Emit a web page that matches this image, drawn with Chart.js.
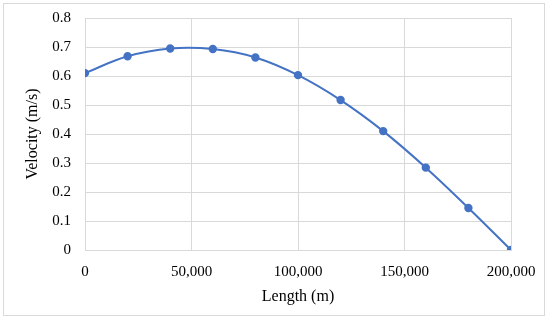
<!DOCTYPE html>
<html>
<head>
<meta charset="utf-8">
<script src="https://cdn.jsdelivr.net/npm/chart.js@4/dist/chart.umd.min.js"></script>
<style>
html,body{margin:0;padding:0;background:#fff;}
#wrap{position:relative;width:550px;height:322px;}
#frame{position:absolute;left:3px;top:3px;width:542px;height:313px;border:1px solid #d9d9d9;box-sizing:border-box;}
canvas{position:absolute;left:0;top:0;}
</style>
</head>
<body>
<div id="wrap"><div id="frame"></div><canvas id="c" width="550" height="322"></canvas></div>
<script>
const lengths = [0, 20000, 40000, 60000, 80000, 100000, 120000, 140000, 160000, 180000, 200000];
const velocity = [0.610, 0.668, 0.695, 0.693, 0.664, 0.603, 0.517, 0.410, 0.284, 0.145, 0.0];
const xTitle = 'Length (m)';
const yTitle = 'Velocity (m/s)';

const FONT = "'Liberation Serif', 'DejaVu Serif', serif";
Chart.defaults.font.family = FONT;
Chart.defaults.color = '#000';

new Chart(document.getElementById('c'), {
  type: 'line',
  data: {
    datasets: [{
      data: lengths.map((x, i) => ({x: x, y: velocity[i]})),
      borderColor: '#4472c4',
      backgroundColor: '#4472c4',
      borderWidth: 2,
      pointRadius: 3.2,
      pointBackgroundColor: '#4472c4',
      pointBorderColor: '#4472c4',
      tension: 0.4,
      fill: false
    }]
  },
  options: {
    responsive: false,
    animation: false,
    devicePixelRatio: 1,
    layout: {padding: {left: 0, right: 39, top: 18, bottom: 0}},
    plugins: {legend: {display: false}, tooltip: {enabled: false}},
    scales: {
      x: {
        type: 'linear',
        min: 0, max: 200000,
        ticks: {stepSize: 50000, padding: 13, font: {size: 15},
          callback: v => v.toLocaleString('en-US')},
        grid: {color: '#d9d9d9', drawTicks: false},
        border: {color: '#d9d9d9'},
        title: {display: true, text: xTitle, font: {size: 16}, padding: {top: 0, bottom: 16}},
        afterFit: s => { s.height = 72; s.paddingLeft = 0; s.paddingRight = 0; }
      },
      y: {
        min: 0, max: 0.8,
        ticks: {stepSize: 0.1, padding: 14, font: {size: 15},
          callback: v => (Math.round(v * 10) / 10).toString()},
        grid: {color: '#d9d9d9', drawTicks: false},
        border: {color: '#d9d9d9'},
        title: {display: true, text: yTitle, font: {size: 16}, padding: {top: 23, bottom: 0}},
        afterFit: s => { s.width = 85; s.paddingTop = 0; s.paddingBottom = 0; }
      }
    }
  }
});
</script>
</body>
</html>
